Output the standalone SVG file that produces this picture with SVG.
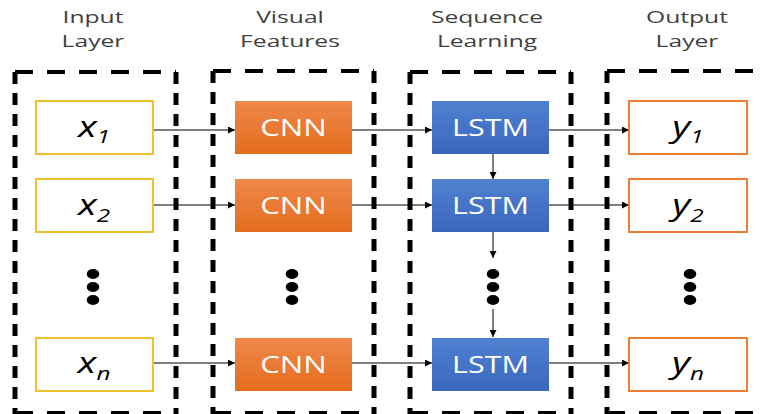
<svg xmlns="http://www.w3.org/2000/svg" width="760" height="414" viewBox="0 0 760 414">
<defs>
<marker id="ah" viewBox="0 0 10 10" refX="10" refY="5" markerWidth="8" markerHeight="7" markerUnits="userSpaceOnUse" orient="auto"><path d="M0,0 L10,5 L0,10 z" fill="#000"/></marker>
<linearGradient id="og" x1="0" y1="0" x2="0" y2="1"><stop offset="0" stop-color="#F0884A"/><stop offset="1" stop-color="#E46C1E"/></linearGradient>
<linearGradient id="bg" x1="0" y1="0" x2="0" y2="1"><stop offset="0" stop-color="#5081D0"/><stop offset="1" stop-color="#3A67BE"/></linearGradient>
</defs>
<style>
.h{fill:none;stroke:#000;stroke-width:4;stroke-dasharray:18 14}
.v{fill:none;stroke:#000;stroke-width:5;stroke-dasharray:12 9}
.hd{font-family:"Open Sans","Noto Sans",sans-serif;font-size:17px;fill:#404040;text-anchor:middle}
.in{fill:#fff;stroke:#F2C12E;stroke-width:2}
.out{fill:#fff;stroke:#ED7D31;stroke-width:2}
.cnn{fill:url(#og)}
.lstm{fill:url(#bg)}
.lbl{font-family:"Open Sans","Noto Sans",sans-serif;font-size:24px;fill:#fff;text-anchor:middle}
.var{font-family:"Open Sans","Noto Sans",sans-serif;font-size:29px;font-style:italic;fill:#000;text-anchor:middle}
.sub{font-size:18px}
.c{stroke:#000;stroke-width:1;fill:none;marker-end:url(#ah)}
.dot{fill:#000}
</style>
<rect width="760" height="414" fill="#fff"/>
<g id="headers">
<text class="hd" transform="translate(93,23) scale(1.45,1)">Input</text><text class="hd" transform="translate(93,47) scale(1.45,1)">Layer</text>
<text class="hd" transform="translate(290,23) scale(1.45,1)">Visual</text><text class="hd" transform="translate(290,47) scale(1.45,1)">Features</text>
<text class="hd" transform="translate(487,23) scale(1.45,1)">Sequence</text><text class="hd" transform="translate(487,47) scale(1.45,1)">Learning</text>
<text class="hd" transform="translate(687,23) scale(1.45,1)">Output</text><text class="hd" transform="translate(687,47) scale(1.45,1)">Layer</text>
</g>
<g id="groups">
<path class="h" d="M15,72 H176 M15,413 H176"/><path class="v" d="M15,72 V414 M176,72 V414"/>
<path class="h" d="M213,71 H374 M213,413 H374"/><path class="v" d="M213,71 V414 M374,71 V414"/>
<path class="h" d="M410,72 H571 M410,413 H571"/><path class="v" d="M410,72 V414 M571,72 V414"/>
<path class="h" d="M607,71 H760 M607,413 H760"/><path class="v" d="M607,71 V414"/>
</g>
<g id="connectors">
<line class="c" x1="153" y1="130" x2="235" y2="130"/>
<line class="c" x1="153" y1="205" x2="235" y2="205"/>
<line class="c" x1="153" y1="363" x2="235" y2="363"/>
<line class="c" x1="352" y1="130" x2="432" y2="130"/>
<line class="c" x1="352" y1="205" x2="432" y2="205"/>
<line class="c" x1="352" y1="363" x2="432" y2="363"/>
<line class="c" x1="549" y1="130" x2="629" y2="130"/>
<line class="c" x1="549" y1="205" x2="629" y2="205"/>
<line class="c" x1="549" y1="363" x2="629" y2="363"/>
<line class="c" x1="493" y1="154" x2="493" y2="179"/>
<line class="c" x1="493" y1="232" x2="493" y2="258"/>
<line class="c" x1="493" y1="309" x2="493" y2="337"/>
</g>
<g id="x1"><rect class="in" x="36" y="101" width="117" height="53"/><text class="var" transform="translate(94,137) scale(1.35,1)">x<tspan class="sub" dy="6">1</tspan></text></g>
<g id="x2"><rect class="in" x="36" y="179" width="117" height="53"/><text class="var" transform="translate(94,215) scale(1.35,1)">x<tspan class="sub" dy="7">2</tspan></text></g>
<g id="xdots"><ellipse class="dot" cx="93" cy="274" rx="6.3" ry="5"/><ellipse class="dot" cx="93" cy="287" rx="6.3" ry="5"/><ellipse class="dot" cx="93" cy="300" rx="6.3" ry="5"/></g>
<g id="xn"><rect class="in" x="36" y="338" width="117" height="53"/><text class="var" transform="translate(94,373) scale(1.35,1)">x<tspan class="sub" dy="7">n</tspan></text></g>
<g id="cnn1"><rect class="cnn" x="235" y="101" width="117" height="53"/><text class="lbl" transform="translate(293.5,136) scale(1.3,1)">CNN</text></g>
<g id="cnn2"><rect class="cnn" x="235" y="179" width="117" height="53"/><text class="lbl" transform="translate(293.5,214) scale(1.3,1)">CNN</text></g>
<g id="cnndots"><ellipse class="dot" cx="292" cy="274" rx="6.3" ry="5"/><ellipse class="dot" cx="292" cy="287" rx="6.3" ry="5"/><ellipse class="dot" cx="292" cy="300" rx="6.3" ry="5"/></g>
<g id="cnnn"><rect class="cnn" x="235" y="338" width="117" height="53"/><text class="lbl" transform="translate(293.5,373) scale(1.3,1)">CNN</text></g>
<g id="lstm1"><rect class="lstm" x="432" y="101" width="117" height="53"/><text class="lbl" transform="translate(490.5,136) scale(1.27,1)">LSTM</text></g>
<g id="lstm2"><rect class="lstm" x="432" y="179" width="117" height="53"/><text class="lbl" transform="translate(490.5,214) scale(1.27,1)">LSTM</text></g>
<g id="lstmdots"><ellipse class="dot" cx="493" cy="274" rx="6.3" ry="5"/><ellipse class="dot" cx="493" cy="287" rx="6.3" ry="5"/><ellipse class="dot" cx="493" cy="300" rx="6.3" ry="5"/></g>
<g id="lstmn"><rect class="lstm" x="432" y="338" width="117" height="53"/><text class="lbl" transform="translate(490.5,373) scale(1.27,1)">LSTM</text></g>
<g id="y1"><rect class="out" x="629" y="101" width="118" height="53"/><text class="var" transform="translate(688,137) scale(1.35,1)">y<tspan class="sub" dy="6">1</tspan></text></g>
<g id="y2"><rect class="out" x="629" y="179" width="118" height="53"/><text class="var" transform="translate(688,215) scale(1.35,1)">y<tspan class="sub" dy="7">2</tspan></text></g>
<g id="ydots"><ellipse class="dot" cx="690" cy="274" rx="6.3" ry="5"/><ellipse class="dot" cx="690" cy="287" rx="6.3" ry="5"/><ellipse class="dot" cx="690" cy="300" rx="6.3" ry="5"/></g>
<g id="yn"><rect class="out" x="629" y="338" width="118" height="53"/><text class="var" transform="translate(688,373) scale(1.35,1)">y<tspan class="sub" dy="7">n</tspan></text></g>
</svg>
